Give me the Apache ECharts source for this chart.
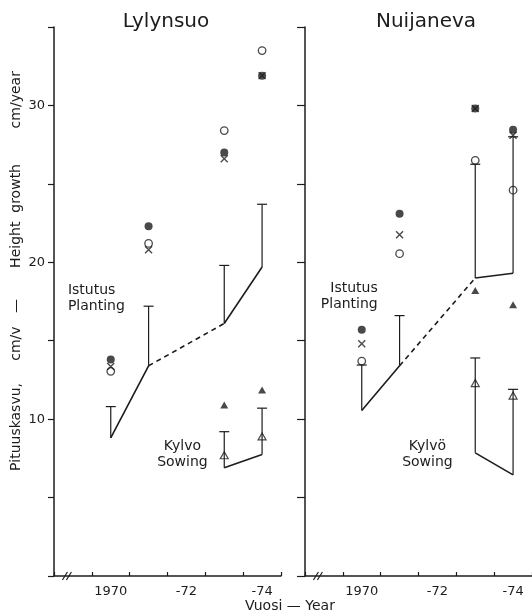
<!DOCTYPE html>
<html><head><meta charset="utf-8">
<script src="https://cdn.jsdelivr.net/npm/echarts@6/dist/echarts.min.js"></script>
<style>html,body{margin:0;padding:0;background:#fff}#c{width:532px;height:616px}</style>
</head><body><div id="c"></div>
<script>
// ---- data ----
const categories = ['', '1970', '1971', '1972', '1973', '1974'];
const xTickLabels = ['', '1970', '', '-72', '', '-74'];
const yLabelValues = [10, 20, 30];
const panelTitles = ['Lylynsuo', 'Nuijaneva'];

// Lylynsuo
const plantMeanL   = ['-', 8.8, 13.4, '-', 16.1, 19.7];
const plantTopL    = ['-', 10.8, 17.2, '-', 19.8, 23.7];
const filledDotL   = ['-', 13.8, 22.3, '-', 27.0, 31.9];
const crossL       = ['-', 13.35, 20.8, '-', 26.6, 31.9];
const openDotL     = ['-', 13.05, 21.2, '-', 28.4, 33.5];
const sowMeanL     = ['-', '-', '-', '-', 6.9, 7.75];
const sowTopL      = ['-', '-', '-', '-', 9.2, 10.7];
const filledTriL   = ['-', '-', '-', '-', 10.9, 11.85];
const openTriL     = ['-', '-', '-', '-', 7.7, 8.9];

// Nuijaneva
const plantMeanR   = ['-', 10.55, 13.4, '-', 19.0, 19.3];
const plantTopR    = ['-', 13.45, 16.6, '-', 26.25, 28.0];
const filledDotR   = ['-', 15.7, 23.1, '-', 29.8, 28.45];
const crossR       = ['-', 14.8, 21.75, '-', 29.8, 28.1];
const openDotR     = ['-', 13.7, 20.55, '-', 26.5, 24.6];
const sowMeanR     = ['-', '-', '-', '-', 7.85, 6.45];
const sowTopR      = ['-', '-', '-', '-', 13.9, 11.9];
const filledTriR   = ['-', '-', '-', '-', 18.2, 17.3];
const openTriR     = ['-', '-', '-', '-', 12.3, 11.5];

const yAxisName = 'Pituuskasvu,     cm/v   \u2014       Height  growth        cm/year';
const xAxisName = 'Vuosi \u2014 Year';

// ---- helpers ----
const ink = '#1c1c1c';
const FONT = 'DejaVu Sans';

function solidPart(arr) { return arr.slice(); }
function dashedPart(arr) {
  // the planting link between 1971 and 1973 (no 1972 value) is dashed
  return arr.map((v, i) => (i === 2 || i === 4) ? v : '-');
}
function barData(base, top) {
  const out = [];
  base.forEach((b, i) => { if (b !== '-' && top[i] !== '-') out.push([i, b, top[i]]); });
  return out;
}
function barSeries(g, base, top) {
  return {
    type: 'custom', xAxisIndex: g, yAxisIndex: g, z: 3,
    data: barData(base, top),
    encode: { x: 0, y: [1, 2] },
    renderItem: function (params, api) {
      const i = api.value(0);
      const p0 = api.coord([i, api.value(1)]);
      const p1 = api.coord([i, api.value(2)]);
      return { type: 'group', children: [
        { type: 'line', shape: { x1: p0[0], y1: p0[1], x2: p1[0], y2: p1[1] }, style: { stroke: ink, lineWidth: 1.2 } },
        { type: 'line', shape: { x1: p1[0] - 5, y1: p1[1], x2: p1[0] + 5, y2: p1[1] }, style: { stroke: ink, lineWidth: 1.2 } }
      ]};
    }
  };
}
function lineSeries(g, data, dashed) {
  return {
    type: 'line', xAxisIndex: g, yAxisIndex: g, z: 2,
    data: data, connectNulls: !!dashed, showSymbol: false, symbol: 'none',
    lineStyle: { color: ink, width: 1.6, type: dashed ? [5, 4] : 'solid' },
    animation: false
  };
}
const crossPath = 'path://M0,0L10,10M10,0L0,10';
function markSeries(g, data, kind) {
  const s = { type: 'scatter', xAxisIndex: g, yAxisIndex: g, z: 5, data: data, animation: false };
  if (kind === 'dot') { s.symbol = 'circle'; s.symbolSize = 8; s.itemStyle = { color: ink }; }
  if (kind === 'open') { s.symbol = 'circle'; s.symbolSize = 7.5; s.itemStyle = { color: 'rgba(0,0,0,0)', borderColor: ink, borderWidth: 1.3 }; }
  if (kind === 'cross') { s.symbol = crossPath; s.symbolSize = 7; s.itemStyle = { color: 'rgba(0,0,0,0)', borderColor: ink, borderWidth: 1.4 }; }
  if (kind === 'tri') { s.symbol = 'triangle'; s.symbolSize = [8, 7]; s.itemStyle = { color: ink }; }
  if (kind === 'otri') { s.symbol = 'triangle'; s.symbolSize = [8, 7]; s.itemStyle = { color: 'rgba(0,0,0,0)', borderColor: ink, borderWidth: 1.2 }; }
  return s;
}
function textSeries(g, cat, val, text, dx, align) {
  return {
    type: 'custom', xAxisIndex: g, yAxisIndex: g, z: 6,
    data: [[cat, val]],
    renderItem: function (params, api) {
      const p = api.coord([api.value(0), api.value(1)]);
      return { type: 'text', x: p[0] + dx, y: p[1], style: {
        text: text, fill: ink, font: '14px "' + FONT + '"', align: align, verticalAlign: 'middle', lineHeight: 16
      }};
    }
  };
}

function xAxisCfg(g) {
  return {
    type: 'category', gridIndex: g, data: categories, boundaryGap: true,
    axisLine: { lineStyle: { color: ink, width: 1.5 } },
    axisTick: { show: true, inside: true, length: 4, interval: 0, lineStyle: { color: ink, width: 1.2 } },
    axisLabel: { interval: 0, margin: 9, color: ink, fontFamily: FONT, fontSize: 13,
      formatter: (v, i) => xTickLabels[i] },
    splitLine: { show: false }
  };
}
function yAxisCfg(g) {
  return {
    type: 'value', gridIndex: g, min: 0, max: 35, interval: 5,
    axisLine: { show: true, lineStyle: { color: ink, width: 1.5 } },
    axisTick: { show: true, inside: false, length: g === 0 ? 6 : 8, lineStyle: { color: ink, width: 1.2 } },
    axisLabel: { show: g === 0, margin: 9, color: ink, fontFamily: FONT, fontSize: 13,
      formatter: v => yLabelValues.indexOf(v) >= 0 ? String(v) : '' },
    splitLine: { show: false }
  };
}

const option = {
  backgroundColor: '#ffffff',
  animation: false,
  title: [
    { text: panelTitles[0], left: 166, top: 12, textAlign: 'center', padding: 0,
      textStyle: { color: ink, fontFamily: FONT, fontSize: 20, fontWeight: 'normal' } },
    { text: panelTitles[1], left: 426, top: 12, textAlign: 'center', padding: 0,
      textStyle: { color: ink, fontFamily: FONT, fontSize: 20, fontWeight: 'normal' } }
  ],
  grid: [
    { left: 54, top: 27, width: 227, bottom: 40 },
    { left: 305, top: 27, width: 229, bottom: 40 }
  ],
  xAxis: [xAxisCfg(0), xAxisCfg(1)],
  yAxis: [yAxisCfg(0), yAxisCfg(1)],
  series: [
    // Lylynsuo planting
    lineSeries(0, solidPart(plantMeanL), false),
    lineSeries(0, dashedPart(plantMeanL), true),
    barSeries(0, plantMeanL, plantTopL),
    // Lylynsuo sowing
    lineSeries(0, sowMeanL, false),
    barSeries(0, sowMeanL, sowTopL),
    markSeries(0, openDotL, 'open'),
    markSeries(0, crossL, 'cross'),
    markSeries(0, filledDotL, 'dot'),
    markSeries(0, filledTriL, 'tri'),
    markSeries(0, openTriL, 'otri'),
    // Nuijaneva planting
    lineSeries(1, solidPart(plantMeanR), false),
    lineSeries(1, dashedPart(plantMeanR), true),
    barSeries(1, plantMeanR, plantTopR),
    lineSeries(1, sowMeanR, false),
    barSeries(1, sowMeanR, sowTopR),
    markSeries(1, openDotR, 'open'),
    markSeries(1, crossR, 'cross'),
    markSeries(1, filledDotR, 'dot'),
    markSeries(1, filledTriR, 'tri'),
    markSeries(1, openTriR, 'otri'),
    // annotations
    textSeries(0, 0, 17.7, 'Istutus\nPlanting', -5, 'left'),
    textSeries(1, 1, 17.85, 'Istutus\nPlanting', 16, 'right'),
    textSeries(0, 3, 7.74, 'Kylvo\nSowing', -4, 'center'),
    textSeries(1, 3, 7.77, 'Kylv\u00f6\nSowing', -10, 'center')
  ]
};

const chart = echarts.init(document.getElementById('c'), null, { renderer: 'canvas' });
chart.setOption(option);

// axis-break marks and axis names
const graphics = [];
[0, 1].forEach(g => {
  const p = chart.convertToPixel({ xAxisIndex: g, yAxisIndex: g }, [0, 0]);
  const cx = p[0] - 6, cy = p[1];
  [-2, 2].forEach(d => graphics.push({
    type: 'line', z: 10,
    shape: { x1: cx + d - 2.5, y1: cy + 4, x2: cx + d + 2.5, y2: cy - 4 },
    style: { stroke: ink, lineWidth: 1.2 }
  }));
});
graphics.push({
  type: 'text', x: 16, y: 271, rotation: Math.PI / 2, z: 10,
  style: { text: yAxisName, fill: ink, font: '14px "' + FONT + '"', align: 'center', verticalAlign: 'middle' }
});
graphics.push({
  type: 'text', x: 290, y: 606, z: 10,
  style: { text: xAxisName, fill: ink, font: '14px "' + FONT + '"', align: 'center', verticalAlign: 'middle' }
});
chart.setOption({ graphic: graphics });
</script>
</body></html>
